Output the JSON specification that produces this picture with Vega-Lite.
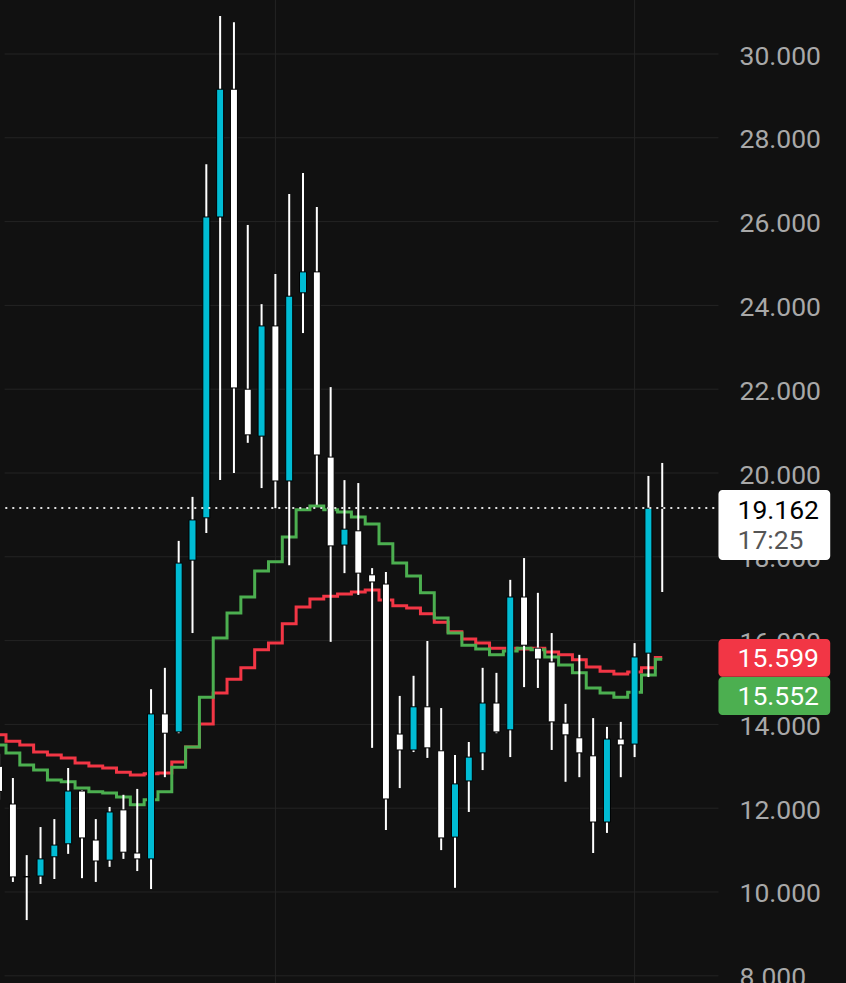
{
  "$schema": "https://vega.github.io/schema/vega-lite/v6.json",
  "width": 846,
  "height": 983,
  "autosize": {"type": "none"},
  "padding": 0,
  "background": "#111111",
  "config": {"view": {"stroke": null}, "font": "Roboto"},
  "datasets": {
    "candles": [
      {"i": -1, "o": 13.0, "h": 13.3, "l": 12.2, "c": 12.4, "red": 13.75, "green": 13.51},
      {"i": 0, "o": 12.10, "h": 12.72, "l": 10.24, "c": 10.36, "red": 13.60, "green": 13.32},
      {"i": 1, "o": 10.37, "h": 10.88, "l": 9.33, "c": 10.36, "red": 13.51, "green": 13.03},
      {"i": 2, "o": 10.38, "h": 11.55, "l": 10.19, "c": 10.79, "red": 13.34, "green": 12.91},
      {"i": 3, "o": 10.84, "h": 11.74, "l": 10.31, "c": 11.12, "red": 13.27, "green": 12.67},
      {"i": 4, "o": 11.15, "h": 12.96, "l": 10.91, "c": 12.41, "red": 13.20, "green": 12.63},
      {"i": 5, "o": 12.41, "h": 12.43, "l": 10.33, "c": 11.29, "red": 13.08, "green": 12.48},
      {"i": 6, "o": 11.24, "h": 11.74, "l": 10.24, "c": 10.74, "red": 13.01, "green": 12.39},
      {"i": 7, "o": 10.76, "h": 12.03, "l": 10.60, "c": 11.91, "red": 12.96, "green": 12.36},
      {"i": 8, "o": 11.96, "h": 12.32, "l": 10.79, "c": 10.95, "red": 12.86, "green": 12.27},
      {"i": 9, "o": 10.93, "h": 12.46, "l": 10.50, "c": 10.79, "red": 12.79, "green": 12.08},
      {"i": 10, "o": 10.79, "h": 14.84, "l": 10.07, "c": 14.25, "red": 12.82, "green": 12.20},
      {"i": 11, "o": 14.25, "h": 15.35, "l": 12.74, "c": 13.79, "red": 12.84, "green": 12.39},
      {"i": 12, "o": 13.82, "h": 18.38, "l": 13.79, "c": 17.85, "red": 13.10, "green": 12.98},
      {"i": 13, "o": 17.92, "h": 19.43, "l": 16.18, "c": 18.88, "red": 13.46, "green": 13.46},
      {"i": 14, "o": 18.93, "h": 27.37, "l": 18.57, "c": 26.11, "red": 14.01, "green": 14.65},
      {"i": 15, "o": 26.11, "h": 30.91, "l": 19.83, "c": 29.16, "red": 14.75, "green": 16.06},
      {"i": 16, "o": 29.16, "h": 30.76, "l": 20.00, "c": 22.03, "red": 15.08, "green": 16.66},
      {"i": 17, "o": 22.00, "h": 25.92, "l": 20.72, "c": 20.91, "red": 15.35, "green": 17.04},
      {"i": 18, "o": 20.88, "h": 24.03, "l": 19.64, "c": 23.51, "red": 15.78, "green": 17.66},
      {"i": 19, "o": 23.51, "h": 24.75, "l": 19.16, "c": 19.81, "red": 15.94, "green": 17.88},
      {"i": 20, "o": 19.81, "h": 26.66, "l": 17.80, "c": 24.22, "red": 16.40, "green": 18.47},
      {"i": 21, "o": 24.30, "h": 27.16, "l": 23.34, "c": 24.80, "red": 16.80, "green": 19.12},
      {"i": 22, "o": 24.80, "h": 26.35, "l": 19.24, "c": 20.43, "red": 16.99, "green": 19.21},
      {"i": 23, "o": 20.38, "h": 22.05, "l": 15.97, "c": 18.26, "red": 17.06, "green": 19.12},
      {"i": 24, "o": 18.28, "h": 19.83, "l": 17.61, "c": 18.66, "red": 17.11, "green": 19.07},
      {"i": 25, "o": 18.62, "h": 19.76, "l": 17.09, "c": 17.61, "red": 17.16, "green": 18.95},
      {"i": 26, "o": 17.57, "h": 17.73, "l": 13.44, "c": 17.40, "red": 17.21, "green": 18.78},
      {"i": 27, "o": 17.35, "h": 17.64, "l": 11.48, "c": 12.22, "red": 16.97, "green": 18.31},
      {"i": 28, "o": 13.77, "h": 14.68, "l": 12.48, "c": 13.39, "red": 16.83, "green": 17.85},
      {"i": 29, "o": 13.39, "h": 15.16, "l": 13.34, "c": 14.42, "red": 16.78, "green": 17.54},
      {"i": 30, "o": 14.42, "h": 15.99, "l": 13.20, "c": 13.44, "red": 16.64, "green": 17.14},
      {"i": 31, "o": 13.37, "h": 14.39, "l": 11.00, "c": 11.29, "red": 16.44, "green": 16.54},
      {"i": 32, "o": 11.31, "h": 13.27, "l": 10.10, "c": 12.58, "red": 16.21, "green": 16.18},
      {"i": 33, "o": 12.65, "h": 13.58, "l": 11.91, "c": 13.22, "red": 16.04, "green": 15.89},
      {"i": 34, "o": 13.32, "h": 15.35, "l": 12.91, "c": 14.51, "red": 15.94, "green": 15.80},
      {"i": 35, "o": 14.51, "h": 15.23, "l": 13.79, "c": 13.82, "red": 15.82, "green": 15.66},
      {"i": 36, "o": 13.87, "h": 17.45, "l": 13.22, "c": 17.04, "red": 15.82, "green": 15.75},
      {"i": 37, "o": 17.04, "h": 17.97, "l": 14.89, "c": 15.89, "red": 15.80, "green": 15.82},
      {"i": 38, "o": 15.82, "h": 17.14, "l": 14.87, "c": 15.56, "red": 15.82, "green": 15.78},
      {"i": 39, "o": 15.49, "h": 16.18, "l": 13.39, "c": 14.06, "red": 15.73, "green": 15.61},
      {"i": 40, "o": 14.03, "h": 14.49, "l": 12.63, "c": 13.75, "red": 15.66, "green": 15.42},
      {"i": 41, "o": 13.68, "h": 15.66, "l": 12.74, "c": 13.32, "red": 15.54, "green": 15.23},
      {"i": 42, "o": 13.25, "h": 14.15, "l": 10.93, "c": 11.67, "red": 15.37, "green": 14.87},
      {"i": 43, "o": 11.67, "h": 13.94, "l": 11.41, "c": 13.65, "red": 15.27, "green": 14.75},
      {"i": 44, "o": 13.65, "h": 14.06, "l": 12.74, "c": 13.51, "red": 15.20, "green": 14.65},
      {"i": 45, "o": 13.53, "h": 15.94, "l": 13.22, "c": 15.61, "red": 15.25, "green": 14.77},
      {"i": 46, "o": 15.70, "h": 19.93, "l": 15.13, "c": 19.16, "red": 15.35, "green": 15.18},
      {"i": 47, "o": 19.17, "h": 20.24, "l": 17.16, "c": 19.162, "red": 15.599, "green": 15.552}
    ],
    "grid": [{"v": 8}, {"v": 10}, {"v": 12}, {"v": 14}, {"v": 16}, {"v": 18}, {"v": 20}, {"v": 22}, {"v": 24}, {"v": 26}, {"v": 28}, {"v": 30}],
    "vgrid": [{"i": 19}, {"i": 45}],
    "tags": [
      {"name": "last", "value": 19.162, "label": "19.162", "time": "17:25"},
      {"name": "red", "value": 15.599, "label": "15.599"},
      {"name": "green", "value": 15.552, "label": "15.552"}
    ]
  },
  "layer": [
    {
      "data": {"name": "grid"},
      "mark": {"type": "rule", "color": "#242424", "strokeWidth": 1},
      "encoding": {
        "y": {"field": "v", "type": "quantitative", "title": null, "scale": {"domain": [7.828, 31.289], "nice": false, "zero": false},
          "axis": {"orient": "right", "offset": -107, "values": [8, 10, 12, 14, 16, 18, 20, 22, 24, 26, 28, 30], "format": ".3f", "grid": false, "domain": false, "ticks": false, "labelPadding": 0, "labelOffset": 2, "labelFont": "Roboto", "labelFontSize": 26.5, "labelColor": "#A8A8A8", "labelAlign": "left", "labelBaseline": "middle", "title": null, "labelFlush": false, "labelOverlap": false}},
        "x": {"datum": -0.6, "type": "quantitative", "scale": {"domain": [-0.572, 59.94], "nice": false, "zero": false}, "axis": null},
        "x2": {"datum": 51.07}
      }
    },
    {
      "data": {"name": "vgrid"},
      "mark": {"type": "rule", "color": "#242424", "strokeWidth": 1},
      "encoding": {
        "x": {"field": "i", "type": "quantitative", "axis": null}
      }
    },
    {
      "data": {"name": "candles"},
      "mark": {"type": "line", "interpolate": "step", "color": "#F23645", "strokeWidth": 3, "clip": true},
      "encoding": {
        "x": {"field": "i", "type": "quantitative", "axis": null},
        "y": {"field": "red", "type": "quantitative", "title": null}
      }
    },
    {
      "data": {"name": "candles"},
      "mark": {"type": "line", "interpolate": "step", "color": "#4CAF50", "strokeWidth": 3, "clip": true},
      "encoding": {
        "x": {"field": "i", "type": "quantitative", "axis": null},
        "y": {"field": "green", "type": "quantitative", "title": null}
      }
    },
    {
      "data": {"name": "candles"},
      "mark": {"type": "rule", "color": "#FFFFFF", "strokeWidth": 2, "clip": true},
      "encoding": {
        "x": {"field": "i", "type": "quantitative", "axis": null},
        "y": {"field": "l", "type": "quantitative", "title": null},
        "y2": {"field": "h"}
      }
    },
    {
      "data": {"name": "candles"},
      "mark": {"type": "bar", "width": 7, "stroke": "#000000", "strokeWidth": 1, "clip": true},
      "encoding": {
        "x": {"field": "i", "type": "quantitative", "axis": null},
        "y": {"field": "o", "type": "quantitative", "title": null},
        "y2": {"field": "c"},
        "fill": {"condition": {"test": "datum.c > datum.o", "value": "#00BCD4"}, "value": "#FFFFFF"}
      }
    },
    {
      "data": {"name": "tags"},
      "transform": [{"filter": "datum.name === 'last'"}],
      "mark": {"type": "rule", "color": "#E0E0E0", "strokeWidth": 2, "strokeDash": [2, 5]},
      "encoding": {
        "y": {"field": "value", "type": "quantitative", "title": null},
        "x": {"datum": -0.55, "type": "quantitative"},
        "x2": {"datum": 51.07}
      }
    },
    {
      "data": {"values": [{}]},
      "mark": {"type": "rect", "fill": "#FFFFFF", "cornerRadius": 4},
      "encoding": {
        "x": {"datum": 51.07, "type": "quantitative"},
        "x2": {"datum": 59.16},
        "y": {"datum": 19.594, "type": "quantitative"},
        "y2": {"datum": 17.924}
      }
    },
    {
      "data": {"values": [{}]},
      "mark": {"type": "rect", "fill": "#F23645", "cornerRadius": 4},
      "encoding": {
        "x": {"datum": 51.07, "type": "quantitative"},
        "x2": {"datum": 59.16},
        "y": {"datum": 16.038, "type": "quantitative"},
        "y2": {"datum": 15.14}
      }
    },
    {
      "data": {"values": [{}]},
      "mark": {"type": "rect", "fill": "#4CAF50", "cornerRadius": 4},
      "encoding": {
        "x": {"datum": 51.07, "type": "quantitative"},
        "x2": {"datum": 59.16},
        "y": {"datum": 15.13, "type": "quantitative"},
        "y2": {"datum": 14.224}
      }
    },
    {
      "data": {"name": "tags"},
      "transform": [{"filter": "datum.name === 'last'"}],
      "mark": {"type": "text", "font": "Roboto", "fontSize": 26.5, "color": "#000000", "align": "left", "baseline": "middle", "yOffset": 3},
      "encoding": {
        "x": {"datum": 52.45, "type": "quantitative"},
        "y": {"field": "value", "type": "quantitative", "title": null},
        "text": {"field": "label"}
      }
    },
    {
      "data": {"name": "tags"},
      "transform": [{"filter": "datum.name === 'last'"}],
      "mark": {"type": "text", "font": "Roboto", "fontSize": 26.5, "color": "#555555", "align": "left", "baseline": "middle", "yOffset": 33},
      "encoding": {
        "x": {"datum": 52.45, "type": "quantitative"},
        "y": {"field": "value", "type": "quantitative", "title": null},
        "text": {"field": "time"}
      }
    },
    {
      "data": {"name": "tags"},
      "transform": [{"filter": "datum.name === 'red'"}],
      "mark": {"type": "text", "font": "Roboto", "fontSize": 26.5, "color": "#FFFFFF", "align": "left", "baseline": "middle", "yOffset": 2},
      "encoding": {
        "x": {"datum": 52.45, "type": "quantitative"},
        "y": {"field": "value", "type": "quantitative", "title": null},
        "text": {"field": "label"}
      }
    },
    {
      "data": {"name": "tags"},
      "transform": [{"filter": "datum.name === 'green'"}],
      "mark": {"type": "text", "font": "Roboto", "fontSize": 26.5, "color": "#FFFFFF", "align": "left", "baseline": "middle", "yOffset": 38},
      "encoding": {
        "x": {"datum": 52.45, "type": "quantitative"},
        "y": {"field": "value", "type": "quantitative", "title": null},
        "text": {"field": "label"}
      }
    }
  ]
}
